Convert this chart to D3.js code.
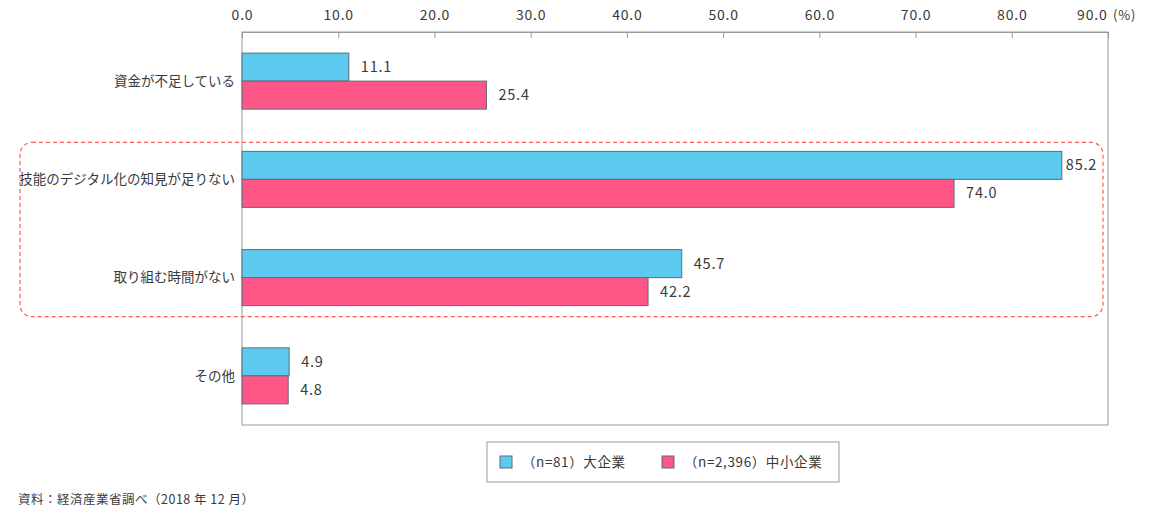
<!DOCTYPE html>
<html>
<head>
<meta charset="utf-8">
<script src="https://cdn.jsdelivr.net/npm/d3@7"></script>
<style>
  body { margin: 0; background: #fff; }
  text { font-family: "Noto Sans CJK JP", "Noto Sans", sans-serif; fill: #3a3a3a; }
</style>
</head>
<body>
<div id="chart"></div>
<script>
// data
var categories = ["資金が不足している", "技能のデジタル化の知見が足りない", "取り組む時間がない", "その他"];
var largeFirms = [11.1, 85.2, 45.7, 4.9];
var smallFirms = [25.4, 74.0, 42.2, 4.8];
var seriesNames = ["（n=81）大企業", "（n=2,396）中小企業"];
var tickValues = [0, 10, 20, 30, 40, 50, 60, 70, 80, 90];

var svgWidth = 1151, svgHeight = 524;
var margin = { top: 32, right: 43, bottom: 99, left: 242 };
var width = svgWidth - margin.left - margin.right;
var height = svgHeight - margin.top - margin.bottom;
var colors = ["#5ccaef", "#ff5688"];

var svg = d3.select("#chart").append("svg")
  .attr("width", svgWidth)
  .attr("height", svgHeight);

var chartGroup = svg.append("g")
  .attr("transform", `translate(${margin.left}, ${margin.top})`);

var xScale = d3.scaleLinear().domain([0, 90]).range([0, width]);
var yScale = d3.scaleBand().domain(categories).range([0, height]).paddingInner(0.43).paddingOuter(0.215);
var subScale = d3.scaleBand().domain([0, 1]).range([0, yScale.bandwidth()]);

// frame
chartGroup.append("rect")
  .attr("width", width).attr("height", height)
  .attr("fill", "none").attr("stroke", "#999").attr("stroke-width", 1);

// top axis
var topAxis = d3.axisTop(xScale).tickValues(tickValues).tickSize(-6).tickFormat(d3.format(".1f"));
var xAxis = chartGroup.append("g").call(topAxis);
xAxis.select(".domain").attr("stroke", "#999");
xAxis.selectAll(".tick line").attr("stroke", "#999");
xAxis.selectAll(".tick text")
  .style("font-size", "14px").style("letter-spacing", "0.8px")
  .attr("fill", "#555").attr("y", -12);
// last label sits left of its tick to make room for the unit
xAxis.selectAll(".tick text").filter(d => d === 90)
  .attr("text-anchor", "end").attr("x", -1);
chartGroup.append("text")
  .attr("x", width + 5).attr("y", -12)
  .style("font-size", "13px").style("letter-spacing", "0.8px").attr("fill", "#555")
  .text("(%)");

// category labels
chartGroup.selectAll(".catLabel")
  .data(categories)
  .enter()
  .append("text")
  .attr("class", "catLabel")
  .attr("x", -7)
  .attr("y", d => yScale(d) + yScale.bandwidth() / 2)
  .attr("dy", "0.35em")
  .attr("text-anchor", "end")
  .style("font-size", "13.5px")
  .text(d => d);

// bars
[largeFirms, smallFirms].forEach(function(values, s) {
  var rows = categories.map((c, i) => ({ cat: c, value: values[i] }));
  chartGroup.selectAll(".bar" + s)
    .data(rows)
    .enter()
    .append("rect")
    .attr("class", "bar" + s)
    .attr("x", 0)
    .attr("y", d => yScale(d.cat) + subScale(s))
    .attr("width", d => xScale(d.value))
    .attr("height", subScale.bandwidth())
    .attr("fill", colors[s])
    .attr("stroke", "#5f6b78")
    .attr("stroke-width", 1);

  chartGroup.selectAll(".val" + s)
    .data(rows)
    .enter()
    .append("text")
    .attr("class", "val" + s)
    .attr("x", d => xScale(d.value) + (d.value > 80 ? 4 : 12))
    .attr("y", d => yScale(d.cat) + subScale(s) + subScale.bandwidth() / 2)
    .attr("dy", "0.35em")
    .style("font-size", "14.5px")
    .style("letter-spacing", "0.8px")
    .attr("fill", "#555")
    .text(d => d3.format(".1f")(d.value));
});

// dashed highlight around 2nd and 3rd categories
var hlTop = yScale(categories[1]) - 9;
var hlBottom = yScale(categories[2]) + yScale.bandwidth() + 11;
svg.append("rect")
  .attr("x", 20)
  .attr("y", margin.top + hlTop)
  .attr("width", 1103 - 20)
  .attr("height", hlBottom - hlTop)
  .attr("rx", 12).attr("ry", 12)
  .attr("fill", "none")
  .attr("stroke", "#ff5a4e")
  .attr("stroke-width", 1.2)
  .attr("stroke-dasharray", "4,3");

// legend
var legend = svg.append("g").attr("transform", "translate(487, 442)");
legend.append("rect")
  .attr("width", 352).attr("height", 40)
  .attr("fill", "#fff").attr("stroke", "#999");
var legendX = [13, 175];
seriesNames.forEach(function(name, i) {
  var item = legend.append("g").attr("transform", `translate(${legendX[i]}, 0)`);
  item.append("rect")
    .attr("x", 0).attr("y", 14).attr("width", 12).attr("height", 12)
    .attr("fill", colors[i]).attr("stroke", "#5f6b78");
  item.append("text")
    .attr("x", 22).attr("y", 20).attr("dy", "0.35em")
    .style("font-size", "13.5px")
    .style("letter-spacing", "0.6px")
    .text(name);
});

// source
svg.append("text")
  .attr("x", 18).attr("y", 500).attr("dy", "0.35em")
  .style("font-size", "12.5px")
  .style("letter-spacing", "0.5px")
  .text("資料：経済産業省調べ（2018 年 12 月）");
</script>
</body>
</html>
